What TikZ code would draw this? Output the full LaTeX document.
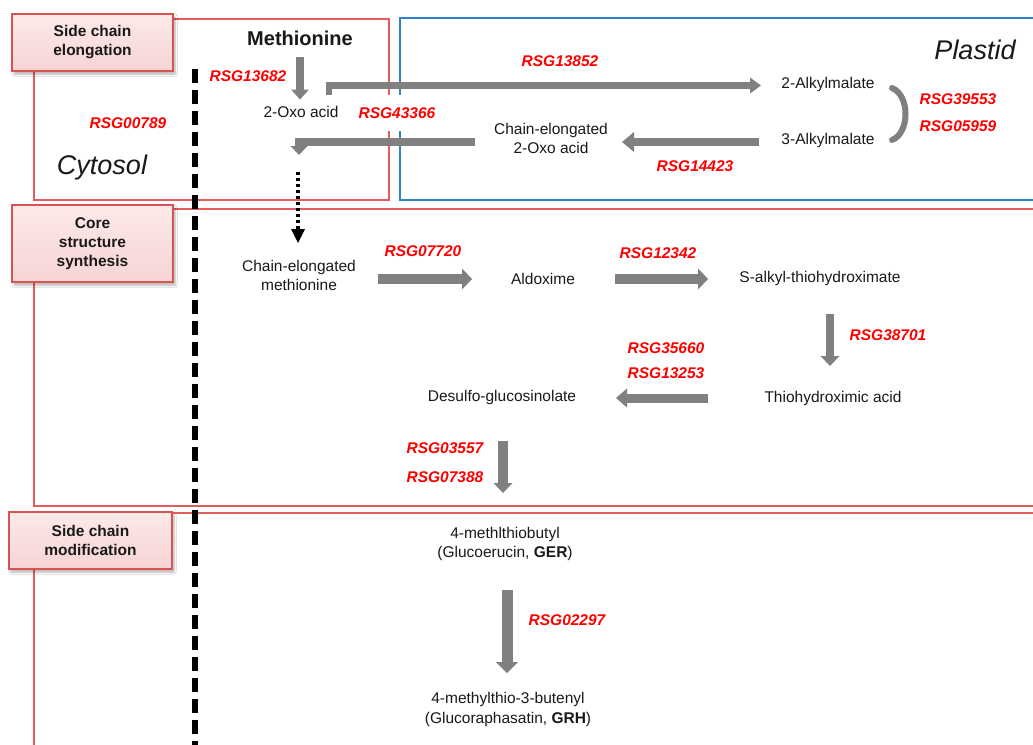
\documentclass[tikz,border=0pt]{standalone}
\usepackage{fontspec}
\setmainfont{Liberation Sans}
\usetikzlibrary{arrows.meta,shadows.blur}
\definecolor{framered}{RGB}{228,92,92}
\definecolor{frameblue}{RGB}{50,130,200}
\definecolor{arrgray}{RGB}{128,128,128}
\definecolor{rsgred}{RGB}{255,0,0}
\definecolor{pinktop}{RGB}{253,233,233}
\definecolor{pinkbot}{RGB}{246,212,212}
\definecolor{boxred}{RGB}{218,82,82}
\definecolor{txt}{RGB}{25,25,25}
\begin{document}
\begin{tikzpicture}[x=1pt,y=-1pt,
  every node/.style={inner sep=1pt, align=center},
  chem/.style={text=txt, font=\fontsize{15.5}{19.5}\selectfont},
  rsg/.style={text=rsgred, font=\fontsize{15.5}{18}\selectfont\bfseries\itshape, fill=white, inner xsep=2pt},
  region/.style={text=txt, font=\fontsize{27}{30}\selectfont\itshape},
  secbox/.style={draw=boxred, line width=1.5pt, top color=pinktop, bottom color=pinkbot,
    minimum width=161pt, text=txt, font=\fontsize{15.5}{19}\selectfont\bfseries,
    blur shadow={shadow blur steps=6, shadow xshift=2pt, shadow yshift=-3pt, shadow opacity=30}},
  frame/.style={draw=framered, line width=1.8pt},
  pfeil/.style={draw=arrgray, line width=#1},
  tipA/.style={-{Triangle[length=10pt,width=21pt,line width=0pt]}},
]
\useasboundingbox (0,0) rectangle (1033,744);
\clip (0,0) rectangle (1033,744);
\fill[white] (0,0) rectangle (1033,744);

% frames
\draw[frame] (34,19) rectangle (389,200);
\draw[draw=frameblue, line width=1.8pt] (1040,18) -- (400,18) -- (400,200) -- (1040,200);
\draw[frame] (1040,209) -- (34,209) -- (34,506) -- (1040,506);
\draw[frame] (1040,513) -- (34,513) -- (34,750);

% section boxes
\node[secbox, minimum height=57pt] (sec1) at (92.5,42.5) {Side chain\\elongation};
\node[secbox, minimum height=77pt] (sec2) at (92.5,243.5) {Core\\structure\\synthesis};
\node[secbox, minimum width=163pt, minimum height=57pt] (sec3) at (90.5,540.5) {Side chain\\modification};

% region names
\node[region] (cyt) at (102,168) {Cytosol};
\node[region] (pla) at (975,50) {Plastid};

% compounds
\node[chem, font=\fontsize{20}{22}\selectfont\bfseries] (meth) at (300,38) {Methionine};
\node[chem] (oxo) at (301,112) {2-Oxo acid};
\node[chem] (alk2) at (828,84) {2-Alkylmalate};
\node[chem] (alk3) at (828,140) {3-Alkylmalate};
\node[chem] (ceoxo) at (551,138.5) {Chain-elongated\\2-Oxo acid};
\node[chem] (cem) at (299,275.5) {Chain-elongated\\methionine};
\node[chem] (ald) at (543,279) {Aldoxime};
\node[chem] (sat) at (820,278) {S-alkyl-thiohydroximate};
\node[chem] (tha) at (833,398) {Thiohydroximic acid};
\node[chem] (dsg) at (502,397) {Desulfo-glucosinolate};
\node[chem] (ger) at (505,544) {4-methlthiobutyl\\(Glucoerucin, \textbf{GER})};
\node[chem] (grh) at (508,709.5) {4-methylthio-3-butenyl\\(Glucoraphasatin, \textbf{GRH})};

% gene labels
\node[rsg] (g1) at (248,76) {RSG13682};
\node[rsg] (g2) at (128,123) {RSG00789};
\node[rsg] (g3) at (560,61) {RSG13852};
\node[rsg, inner ysep=12.5pt] (g4) at (397,113) {RSG43366};
\node[rsg] (g5) at (958,99) {RSG39553};
\node[rsg] (g6) at (958,126) {RSG05959};
\node[rsg] (g7) at (695,166) {RSG14423};
\node[rsg] (g8) at (423,251) {RSG07720};
\node[rsg] (g9) at (658,253) {RSG12342};
\node[rsg] (g10) at (888,335) {RSG38701};
\node[rsg] (g11) at (666,348) {RSG35660};
\node[rsg] (g12) at (666,373) {RSG13253};
\node[rsg] (g13) at (445,448) {RSG03557};
\node[rsg] (g14) at (445,477) {RSG07388};
\node[rsg] (g15) at (567,620) {RSG02297};

% arrow end points
\coordinate (m1) at (300,57);   \coordinate (m2) at (300,99.5);
\coordinate (t1) at (329,95);   \coordinate (t2) at (329,85.5); \coordinate (t3) at (761,85.5);
\coordinate (r1) at (759,142);  \coordinate (r2) at (622,142);
\coordinate (l1) at (475,142);  \coordinate (l2) at (299,142);  \coordinate (l3) at (299,155);
\coordinate (d1) at (298,172);  \coordinate (d2) at (298,243);
\coordinate (a1) at (378,279);  \coordinate (a2) at (472,279);
\coordinate (b1) at (615,279);  \coordinate (b2) at (708,279);
\coordinate (c1) at (830,314);  \coordinate (c2) at (830,366);
\coordinate (e1) at (708,398);  \coordinate (e2) at (616,398);
\coordinate (f1) at (503,441);  \coordinate (f2) at (503,493);
\coordinate (h1) at (507,590);  \coordinate (h2) at (507,673);
\coordinate (k1) at (892,88);   \coordinate (k2) at (892,140);

% arrows
\draw[pfeil=8pt, -{Triangle[length=10pt,width=18pt,line width=0pt]}] (m1) -- (m2);
\draw[pfeil=6.5pt, miter limit=4, -{Triangle[length=11pt,width=16pt,line width=0pt]}] (t1) -- (t2) -- (t3);
\draw[pfeil=8.5pt, -{Triangle[length=12pt,width=20pt,line width=0pt]}] (r1) -- (r2);
\draw[pfeil=8pt, -{Triangle[length=9pt,width=17pt,line width=0pt]}] (l1) -- (l2) -- (l3);
\draw[pfeil=6pt, line cap=round] (k1) .. controls (910,95) and (910,133) .. (k2);
\draw[black, line width=3.5pt, dash pattern=on 3pt off 3pt, -{Triangle[length=14pt,width=14pt,line width=0pt]}] (d1) -- (d2);
\draw[pfeil=10pt, tipA] (a1) -- (a2);
\draw[pfeil=10pt, tipA] (b1) -- (b2);
\draw[pfeil=8.5pt, -{Triangle[length=10pt,width=19pt,line width=0pt]}] (c1) -- (c2);
\draw[pfeil=9pt, -{Triangle[length=11pt,width=19pt,line width=0pt]}] (e1) -- (e2);
\draw[pfeil=10pt, -{Triangle[length=10pt,width=19pt,line width=0pt]}] (f1) -- (f2);
\draw[pfeil=11pt, -{Triangle[length=11pt,width=22pt,line width=0pt]}] (h1) -- (h2);

% cytosol / plastid boundary (dashed)
\coordinate (bd1) at (195,69); \coordinate (bd2) at (195,750);
\draw[black, line width=5.5pt, dash pattern=on 14pt off 7pt] (bd1) -- (bd2);
\end{tikzpicture}
\end{document}
